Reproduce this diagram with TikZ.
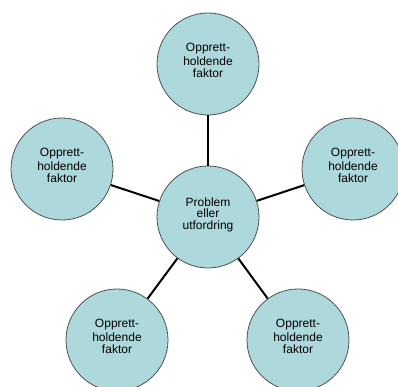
\documentclass[tikz,border=0pt]{standalone}
\usepackage{fontspec}
\setmainfont{Liberation Sans}
\definecolor{bubble}{RGB}{173,216,220}
\definecolor{rim}{RGB}{80,80,80}
\begin{document}
\begin{tikzpicture}[x=1pt,y=1pt,
  bubblebox/.style={circle,draw=rim,line width=0.8pt,fill=bubble,minimum size=102pt,inner sep=0pt,align=center,font=\fontsize{12}{14}\selectfont},
  link/.style={line width=2pt,black}]
\useasboundingbox (0,0) rectangle (398,387);
\clip (0,0) rectangle (398,387);
\node[bubblebox] (c)  at (208,170) {\raisebox{7pt}{\shortstack{Problem\\eller\\utfordring}}};
\node[bubblebox] (t)  at (208,323) {\raisebox{7pt}{\shortstack{Opprett-\\holdende\\faktor}}};
\node[bubblebox] (l)  at (62,218)  {\raisebox{7pt}{\shortstack{Opprett-\\holdende\\faktor}}};
\node[bubblebox] (r)  at (353,218) {\raisebox{7pt}{\shortstack{Opprett-\\holdende\\faktor}}};
\node[bubblebox] (bl) at (117,47)  {\raisebox{7pt}{\shortstack{Opprett-\\holdende\\faktor}}};
\node[bubblebox] (br) at (298,47)  {\raisebox{7pt}{\shortstack{Opprett-\\holdende\\faktor}}};
\foreach \n in {t,l,r,bl,br} \draw[link] (c) -- (\n);
\end{tikzpicture}
\end{document}
